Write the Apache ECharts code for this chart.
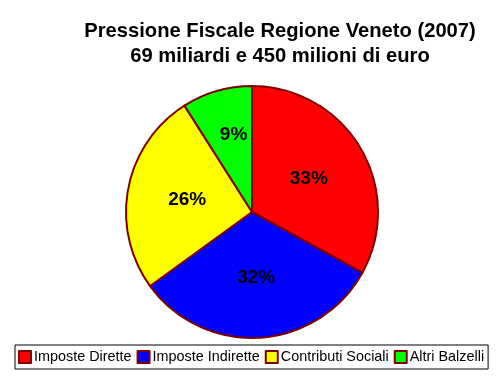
<!DOCTYPE html>
<html><head><meta charset="utf-8">
<script src="https://cdn.jsdelivr.net/npm/echarts@6/dist/echarts.min.js"></script>
<style>html,body{margin:0;padding:0;background:#fff}#c{width:503px;height:388px}</style>
</head><body><div id="c"></div>
<script>
const categories = ['Imposte Dirette', 'Imposte Indirette', 'Contributi Sociali', 'Altri Balzelli'];
const values = [33, 32, 26, 9];
const colors = ['#ff0000', '#0000ff', '#ffff00', '#00ff00'];
const titleLines = ['Pressione Fiscale Regione Veneto (2007)', '69 miliardi e 450 milioni di euro'];

const chart = echarts.init(document.getElementById('c'));
chart.setOption({
  animation: false,
  backgroundColor: '#ffffff',
  graphic: [{
    type: 'text', x: 280, y: 19,
    style: { text: titleLines.join('\n'), textAlign: 'center', fill: '#000',
      font: 'bold 20.2px "Liberation Sans", Arial, sans-serif', lineHeight: 25 }
  }],
  legend: {
    left: 15, top: 345, orient: 'horizontal',
    padding: [5, 4, 5, 3], itemGap: 5, itemWidth: 12, itemHeight: 12,
    borderColor: '#000', borderWidth: 1,
    icon: 'rect',
    itemStyle: { borderColor: '#800000', borderWidth: 2 },
    textStyle: { fontSize: 14.4, fontFamily: '"Liberation Sans", Arial, sans-serif', color: '#000', padding: [0,0,0,-2] },
    data: categories
  },
  series: [{
    type: 'pie', center: [252, 212], radius: 126, startAngle: 90, clockwise: true,
    data: categories.map((n, i) => ({ name: n, value: values[i], itemStyle: { color: colors[i] },
      label: i === 3 ? { offset: [0, -14] } : undefined })),
    itemStyle: { borderColor: '#800000', borderWidth: 2 },
    label: { position: 'inside', formatter: '{c}%', fontSize: 19, fontWeight: 'bold', color: '#000',
      fontFamily: '"Liberation Sans", Arial, sans-serif', textBorderWidth: 0 },
    labelLine: { show: false },
    emphasis: { disabled: true }
  }]
});
</script></body></html>
